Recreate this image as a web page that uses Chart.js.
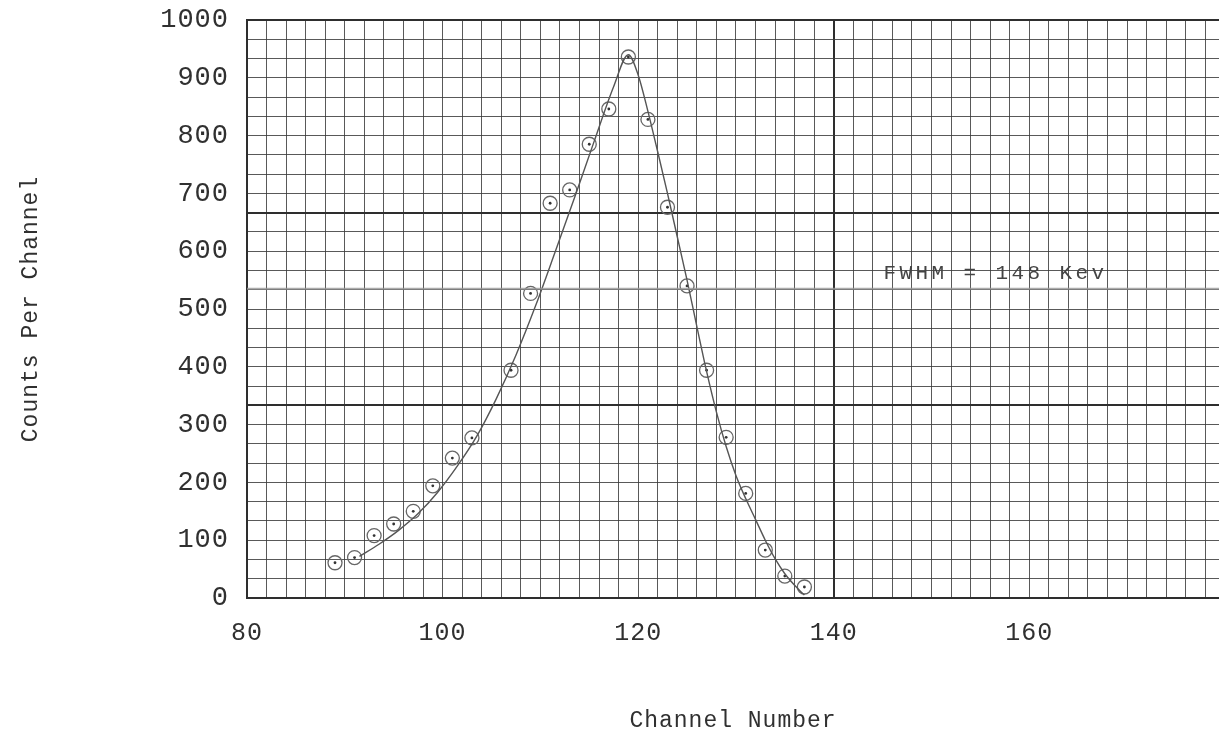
<!DOCTYPE html>
<html>
<head>
    <title>Counts Per Channel</title>
    <script src="https://cdn.jsdelivr.net/npm/chart.js"></script>
    <style>
        body { margin: 0; background: #fff; overflow: hidden; }
        canvas { display: block; background: #fff; }
    </style>
</head>
<body>
    <canvas id="peakChart" width="1219" height="740"></canvas>

    <script>
        // measured points (odd channels)
        const channels = [89, 91, 93, 95, 97, 99, 101, 103, 107, 109, 111, 113, 115, 117, 119, 121, 123, 125, 127, 129, 131, 133, 135, 137];
        const counts = [61, 70, 108, 128, 150, 194, 242, 277, 394, 527, 683, 706, 785, 846, 936, 828, 676, 540, 394, 278, 181, 83, 38, 19];

        // hand drawn curve
        const curveX = [91.5, 93.5, 95.5, 97.5, 99.5, 101.5, 103.5, 105.5, 107.5, 109.5, 111.5, 113.5, 115.5, 117.5, 119, 120, 121, 122, 123, 124, 125, 126, 127, 128, 129, 130, 131, 132, 133, 134, 135, 136, 137];
        const curveY = [72, 93, 117, 146, 183, 228, 280, 345, 420, 505, 598, 693, 790, 885, 940, 905, 842, 772, 700, 625, 550, 470, 392, 322, 262, 212, 172, 136, 100, 68, 42, 22, 5];

        // FWHM marker line
        const fwhmX = [80, 179.4];
        const fwhmY = [535, 535];
        const fwhmText = 'FWHM = 148 Kev';

        // axis labels and graph paper
        const xTickLabels = [80, 100, 120, 140, 160];
        const yTickLabels = [0, 100, 200, 300, 400, 500, 600, 700, 800, 900, 1000];
        const xMin = 80, xMax = 179.4, xGridStep = 2;
        const yMin = 0, yMax = 1000, yGridCount = 30;

        const ink = '#303030';
        const typeFont = "'Liberation Mono', 'Courier New', monospace";

        const noScalePadding = (scale) => {
            scale.paddingTop = 0;
            scale.paddingBottom = 0;
            scale.paddingLeft = 0;
            scale.paddingRight = 0;
        };

        const typewriter = {
            id: 'typewriter',
            beforeUpdate(chart) { chart.ctx.letterSpacing = '1px'; },
            beforeDraw(chart) { chart.ctx.letterSpacing = '1px'; },
            afterDraw(chart) {
                const ctx = chart.ctx;
                const x = chart.scales.x.getPixelForValue(145.1);
                const y = chart.scales.y.getPixelForValue(552);
                ctx.save();
                ctx.letterSpacing = '3.4px';
                ctx.font = '21px ' + typeFont;
                ctx.fillStyle = '#444';
                ctx.textAlign = 'left';
                ctx.textBaseline = 'alphabetic';
                ctx.fillText(fwhmText, x, y);
                ctx.restore();
            }
        };

        const ctx = document.getElementById('peakChart').getContext('2d');
        const peakChart = new Chart(ctx, {
            type: 'scatter',
            data: {
                datasets: [
                    {
                        label: 'FWHM',
                        data: fwhmX.map((x, i) => ({ x: x, y: fwhmY[i] })),
                        showLine: true,
                        borderColor: 'rgba(150,150,150,0.8)',
                        borderWidth: 2,
                        pointRadius: 0
                    },
                    {
                        label: 'Curve',
                        data: curveX.map((x, i) => ({ x: x, y: curveY[i] })),
                        showLine: true,
                        cubicInterpolationMode: 'monotone',
                        borderColor: '#555',
                        borderWidth: 1.4,
                        pointRadius: 0
                    },
                    {
                        label: 'Counts',
                        data: channels.map((c, i) => ({ x: c, y: counts[i] })),
                        pointStyle: 'circle',
                        pointRadius: 7,
                        pointBorderWidth: 1.3,
                        pointBorderColor: '#666',
                        pointBackgroundColor: 'rgba(255,255,255,0)'
                    },
                    {
                        label: 'Dots',
                        data: channels.map((c, i) => ({ x: c, y: counts[i] })),
                        pointRadius: 1.4,
                        pointBorderWidth: 0,
                        pointBackgroundColor: '#333'
                    }
                ]
            },
            options: {
                responsive: false,
                animation: false,
                layout: { autoPadding: false, padding: { top: 20, right: 0, left: 0, bottom: 0 } },
                plugins: {
                    legend: { display: false },
                    tooltip: { enabled: false }
                },
                scales: {
                    x: {
                        type: 'linear',
                        min: xMin,
                        max: xMax,
                        afterBuildTicks: (scale) => {
                            const t = [];
                            for (let v = xMin; v < xMax; v += xGridStep) t.push({ value: v });
                            scale.ticks = t;
                        },
                        afterFit: (scale) => { scale.height = 142; noScalePadding(scale); },
                        grid: {
                            drawTicks: false,
                            color: (c) => (c.tick && c.tick.value === 140) ? '#2e2e2e' : 'rgba(60,60,60,0.85)',
                            lineWidth: (c) => (c.tick && c.tick.value === 140) ? 2 : 1
                        },
                        border: { color: '#2e2e2e', width: 2 },
                        ticks: {
                            autoSkip: false,
                            maxRotation: 0,
                            padding: 20,
                            color: ink,
                            font: { family: typeFont, size: 25 },
                            callback: (v) => xTickLabels.includes(v) ? String(v) : ''
                        },
                        title: {
                            display: true,
                            text: 'Channel Number',
                            color: ink,
                            font: { family: typeFont, size: 23 },
                            padding: { top: 0, bottom: 5 }
                        }
                    },
                    y: {
                        min: yMin,
                        max: yMax,
                        afterBuildTicks: (scale) => {
                            const t = [];
                            for (let k = 0; k <= yGridCount; k++) t.push({ value: yMin + k * (yMax - yMin) / yGridCount });
                            scale.ticks = t;
                        },
                        afterFit: (scale) => { scale.width = 247; noScalePadding(scale); },
                        grid: {
                            drawTicks: false,
                            color: (c) => (c.index % 10 === 0) ? '#2e2e2e' : 'rgba(60,60,60,0.85)',
                            lineWidth: (c) => (c.index % 10 === 0) ? 2 : 1
                        },
                        border: { color: '#2e2e2e', width: 2 },
                        ticks: {
                            autoSkip: false,
                            padding: 18,
                            color: ink,
                            font: { family: typeFont, size: 27 },
                            callback: (v) => {
                                const label = yTickLabels.find(l => Math.abs(l - v) < 0.01);
                                return label !== undefined ? String(label) : '';
                            }
                        },
                        title: {
                            display: true,
                            text: 'Counts Per Channel',
                            color: ink,
                            font: { family: typeFont, size: 23 },
                            padding: { top: 17, bottom: 0 }
                        }
                    }
                }
            },
            plugins: [typewriter]
        });
    </script>
</body>
</html>
